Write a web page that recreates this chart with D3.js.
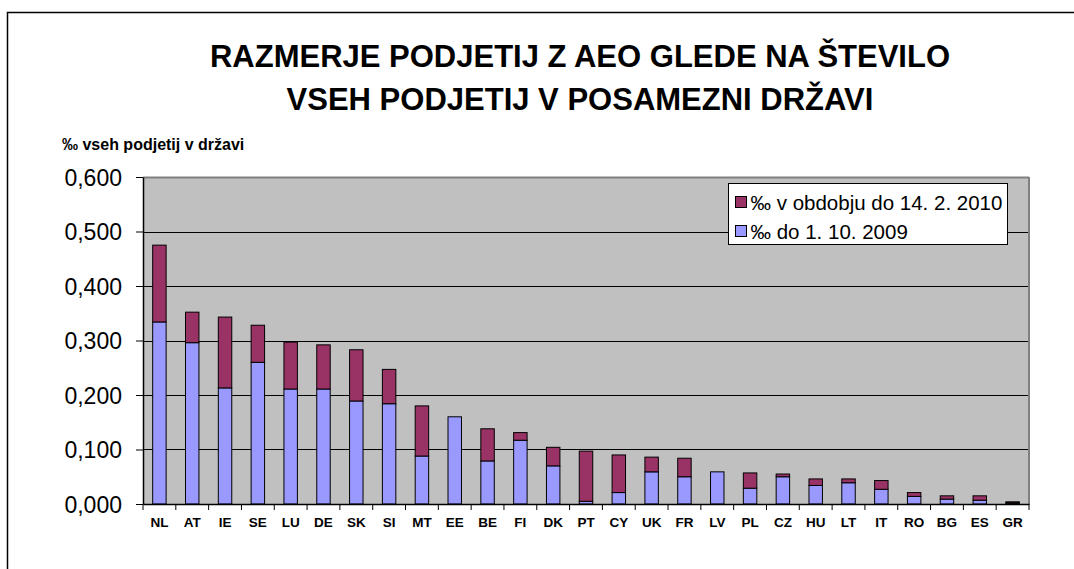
<!DOCTYPE html>
<html>
<head>
<meta charset="utf-8">
<script src="https://cdn.jsdelivr.net/npm/d3@7"></script>
<style>
  body { margin: 0; background: #fff; }
  svg { display: block; font-family: "Liberation Sans", Arial, sans-serif; }
</style>
</head>
<body>
<svg width="1074" height="569"></svg>
<script>
(function() {
    const countries = ['NL', 'AT', 'IE', 'SE', 'LU', 'DE', 'SK', 'SI', 'MT', 'EE', 'BE', 'FI', 'DK', 'PT',
        'CY', 'UK', 'FR', 'LV', 'PL', 'CZ', 'HU', 'LT', 'IT', 'RO', 'BG', 'ES', 'GR']

    // ‰ do 1. 10. 2009
    const before = [0.334, 0.296, 0.213, 0.260, 0.211, 0.211, 0.189, 0.184, 0.088, 0.160, 0.079, 0.117, 0.070, 0.005,
        0.021, 0.059, 0.050, 0.059, 0.029, 0.050, 0.034, 0.039, 0.027, 0.014, 0.009, 0.007, 0.002]

    // ‰ v obdobju do 14. 2. 2010 (added on top)
    const added = [0.141, 0.056, 0.130, 0.068, 0.086, 0.081, 0.094, 0.063, 0.092, 0.000, 0.059, 0.014, 0.034, 0.092,
        0.069, 0.027, 0.034, 0.000, 0.028, 0.005, 0.012, 0.007, 0.016, 0.007, 0.006, 0.008, 0.002]

    const yTicks = [0, 0.1, 0.2, 0.3, 0.4, 0.5, 0.6]

    const seriesNames = ['‰ v obdobju do 14. 2. 2010', '‰ do 1. 10. 2009']
    const seriesColors = ['#993366', '#9999FF']

    const svg = d3.select('svg')

    const plot = { left: 143, right: 1029, top: 177, bottom: 504 }

    // outer frame of the chart
    svg.append('rect')
        .attr('x', 7.5).attr('y', 12.5)
        .attr('width', 1080).attr('height', 600)
        .attr('fill', 'none')
        .attr('stroke', '#000')
        .attr('stroke-width', 1.5)

    const title = svg.append('text')
        .attr('text-anchor', 'middle')
        .attr('font-weight', 'bold')
        .attr('font-size', 31)
        .attr('fill', '#000')
    title.append('tspan').attr('x', 580).attr('y', 67).text('RAZMERJE PODJETIJ Z AEO GLEDE NA ŠTEVILO')
    title.append('tspan').attr('x', 580).attr('y', 110).text('VSEH PODJETIJ V POSAMEZNI DRŽAVI')

    svg.append('text')
        .attr('x', 62).attr('y', 150)
        .attr('font-weight', 'bold')
        .attr('font-size', 16)
        .text('‰ vseh podjetij v državi')

    const x = d3.scaleBand()
        .domain(countries)
        .range([plot.left, plot.right])
        .paddingInner(0.59)
        .paddingOuter(0.295)

    const y = d3.scaleLinear()
        .domain([0, 0.6])
        .range([plot.bottom, plot.top])

    svg.append('rect')
        .attr('x', plot.left).attr('y', plot.top)
        .attr('width', plot.right - plot.left)
        .attr('height', plot.bottom - plot.top)
        .attr('fill', '#C0C0C0')

    svg.append('g')
        .selectAll('line')
        .data(yTicks.slice(1))
        .enter()
        .append('line')
        .attr('x1', plot.left).attr('x2', plot.right)
        .attr('y1', d => Math.round(y(d)) + 0.5)
        .attr('y2', d => Math.round(y(d)) + 0.5)
        .attr('stroke', d => d === 0.6 ? '#808080' : '#000')
        .attr('stroke-width', d => d === 0.6 ? 2 : 1)

    svg.append('line')
        .attr('x1', plot.right).attr('x2', plot.right)
        .attr('y1', plot.top).attr('y2', plot.bottom)
        .attr('stroke', '#808080')
        .attr('stroke-width', 2)

    const rows = countries.map((c, i) => ({ c, b: before[i], a: added[i] }))

    const bars = svg.append('g')
        .selectAll('g')
        .data(rows)
        .enter()
        .append('g')

    bars.append('rect')
        .attr('x', d => x(d.c))
        .attr('width', x.bandwidth())
        .attr('y', d => y(d.b))
        .attr('height', d => y(0) - y(d.b))
        .attr('fill', seriesColors[1])
        .attr('stroke', '#000')
        .attr('stroke-width', 1)

    bars.filter(d => d.a > 0)
        .append('rect')
        .attr('x', d => x(d.c))
        .attr('width', x.bandwidth())
        .attr('y', d => y(d.b + d.a))
        .attr('height', d => y(d.b) - y(d.b + d.a))
        .attr('fill', seriesColors[0])
        .attr('stroke', '#000')
        .attr('stroke-width', 1)

    // axes
    const yAxis = svg.append('g')
        .attr('transform', `translate(${plot.left},0)`)
        .call(d3.axisLeft(y).tickValues(yTicks).tickSize(7).tickSizeOuter(0)
            .tickFormat(d => d3.format('.3f')(d).replace('.', ',')))
    yAxis.select('.domain').attr('stroke', '#000').attr('stroke-width', 1.5)
    yAxis.selectAll('text')
        .attr('font-size', 23)
        .attr('font-family', '"Liberation Sans", Arial, sans-serif')
        .attr('fill', '#000')
        .attr('dx', -11)
        .attr('dy', '0.36em')

    const xAxis = svg.append('g')
        .attr('transform', `translate(0,${plot.bottom})`)
        .call(d3.axisBottom(x).tickSize(0).tickSizeOuter(0))
    xAxis.select('.domain').attr('stroke', '#000').attr('stroke-width', 1.5)
    xAxis.selectAll('text')
        .attr('font-size', 13.5)
        .attr('font-weight', 'bold')
        .attr('font-family', '"Liberation Sans", Arial, sans-serif')
        .attr('fill', '#000')
        .attr('y', 13)
        .attr('dy', '0.71em')

    // category separator ticks
    const step = x.step()
    svg.append('g')
        .selectAll('line')
        .data(d3.range(countries.length + 1))
        .enter()
        .append('line')
        .attr('x1', i => plot.left + i * step)
        .attr('x2', i => plot.left + i * step)
        .attr('y1', plot.bottom)
        .attr('y2', plot.bottom + 6)
        .attr('stroke', '#000')

    // legend
    const legend = svg.append('g').attr('transform', 'translate(728.5,183.5)')
    legend.append('rect')
        .attr('width', 279).attr('height', 61)
        .attr('fill', '#fff')
        .attr('stroke', '#000')
    seriesNames.forEach((name, i) => {
        legend.append('rect')
            .attr('x', 7).attr('y', 13 + i * 29)
            .attr('width', 11).attr('height', 11)
            .attr('fill', seriesColors[i])
            .attr('stroke', '#000')
        legend.append('text')
            .attr('x', 22).attr('y', 26 + i * 29)
            .attr('font-size', 20.5)
            .text(name)
    })
})()
</script>
</body>
</html>
